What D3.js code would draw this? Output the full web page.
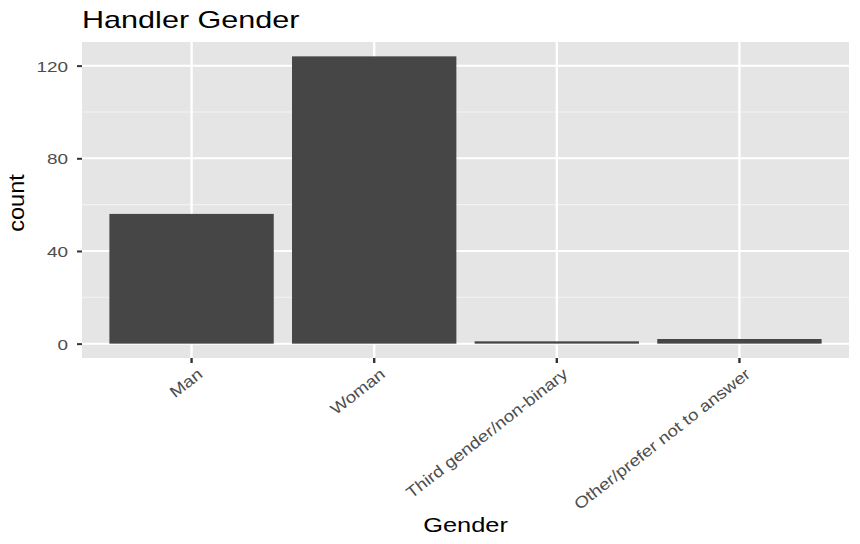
<!DOCTYPE html>
<html>
<head>
<meta charset="utf-8">
<script src="https://cdn.jsdelivr.net/npm/d3@7"></script>
<style>
  body { margin: 0; background: #fff; }
  text { font-family: "Liberation Sans", Arial, sans-serif; }
</style>
</head>
<body>
<div id="chart"></div>
<script>
var categories = ["Man", "Woman", "Third gender/non-binary", "Other/prefer not to answer"];
var counts = [56, 124, 1, 2];
var majorTicks = [0, 40, 80, 120];
var minorTicks = [20, 60, 100];

var W = 860, H = 544;
var panel = {left: 82, right: 849, top: 42, bottom: 358};

var svg = d3.select("#chart").append("svg")
    .attr("width", W)
    .attr("height", H);

var x = d3.scaleBand()
    .domain(categories)
    .range([panel.left, panel.right])
    .paddingInner(0.1)
    .paddingOuter(0.15);

// ggplot style 5% expansion on the count axis
var ymax = d3.max(counts);
var y = d3.scaleLinear()
    .domain([-0.05 * ymax, ymax * 1.05])
    .range([panel.bottom, panel.top]);

var mid = function (d) { return x(d) + x.bandwidth() / 2; };

// panel background
svg.append("rect")
    .attr("x", panel.left)
    .attr("y", panel.top)
    .attr("width", panel.right - panel.left)
    .attr("height", panel.bottom - panel.top)
    .attr("fill", "#e5e5e5");

// grid
svg.append("g").selectAll("line")
    .data(minorTicks)
    .enter().append("line")
    .attr("x1", panel.left).attr("x2", panel.right)
    .attr("y1", function (d) { return y(d); })
    .attr("y2", function (d) { return y(d); })
    .attr("stroke", "#f3f3f3")
    .attr("stroke-width", 1.1);

svg.append("g").selectAll("line")
    .data(majorTicks)
    .enter().append("line")
    .attr("x1", panel.left).attr("x2", panel.right)
    .attr("y1", function (d) { return y(d); })
    .attr("y2", function (d) { return y(d); })
    .attr("stroke", "#fff")
    .attr("stroke-width", 2);

svg.append("g").selectAll("line")
    .data(categories)
    .enter().append("line")
    .attr("x1", mid).attr("x2", mid)
    .attr("y1", panel.top).attr("y2", panel.bottom)
    .attr("stroke", "#fff")
    .attr("stroke-width", 2.4);

// bars
svg.append("g").selectAll("rect")
    .data(categories)
    .enter().append("rect")
    .attr("x", function (d) { return x(d); })
    .attr("width", x.bandwidth())
    .attr("y", function (d, i) { return y(counts[i]); })
    .attr("height", function (d, i) { return y(0) - y(counts[i]); })
    .attr("fill", "#464646");

// y axis
var yAxis = svg.append("g")
    .attr("transform", "translate(" + panel.left + ",0)")
    .call(d3.axisLeft(y).tickValues(majorTicks).tickSize(5).tickPadding(0).tickFormat(d3.format("d")));
yAxis.select(".domain").remove();
yAxis.selectAll(".tick line").attr("stroke", "#333").attr("stroke-width", 2);
yAxis.selectAll(".tick text")
    .attr("x", null).attr("dy", null)
    .attr("transform", "translate(-14,5.5) scale(1.23,1)")
    .attr("fill", "#4d4d4d")
    .style("font-size", "15.4px")
    .attr("text-anchor", "end");

// x axis
var xAxis = svg.append("g")
    .attr("transform", "translate(0," + panel.bottom + ")")
    .call(d3.axisBottom(x).tickSize(5).tickPadding(0));
xAxis.select(".domain").remove();
xAxis.selectAll(".tick line").attr("stroke", "#333").attr("stroke-width", 2.4);
xAxis.selectAll(".tick text")
    .attr("y", null).attr("dy", "0.72em")
    .attr("transform", "translate(5,9) rotate(-38) scale(1.17,1)")
    .attr("fill", "#4d4d4d")
    .style("font-size", "16px")
    .attr("text-anchor", "end");

// titles
svg.append("text")
    .attr("transform", "translate(82,27.7) scale(1.33,1)")
    .style("font-size", "23px")
    .attr("fill", "#000")
    .text("Handler Gender");

svg.append("text")
    .attr("transform", "translate(" + ((panel.left + panel.right) / 2) + ",532) scale(1.27,1)")
    .attr("text-anchor", "middle")
    .style("font-size", "20px")
    .attr("fill", "#000")
    .text("Gender");

svg.append("text")
    .attr("transform", "translate(23.5,203) rotate(-90) scale(1.07,1)")
    .attr("text-anchor", "middle")
    .style("font-size", "22px")
    .attr("fill", "#000")
    .text("count");
</script>
</body>
</html>
